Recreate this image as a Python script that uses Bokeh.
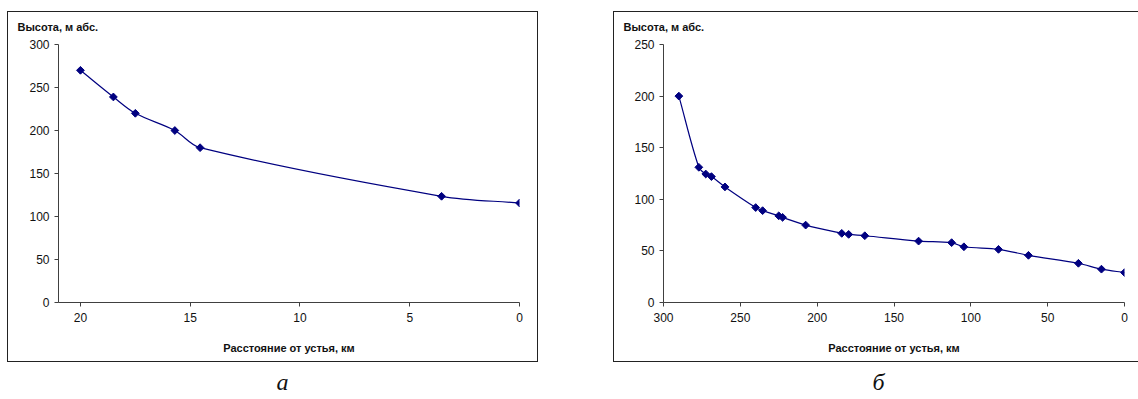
import numpy as np
from bokeh.plotting import figure
from bokeh.models import Label, Range1d, FixedTicker, Spacer, Title
from bokeh.layouts import row, column
from bokeh.embed import file_html
from bokeh.resources import INLINE

# Longitudinal river profiles: distance from the mouth (km) vs elevation (m a.s.l.)
dist_a = [20.0, 18.5, 17.5, 15.7, 14.55, 3.55, 0.0]
elev_a = [270, 239, 220, 200, 180, 123.5, 115.7]

dist_b = [290, 277, 272.5, 268.8, 260, 240, 235.5, 225, 222.5, 207.5, 184,
          179.5, 169, 134, 112.5, 104.5, 82, 62.5, 30, 15, 0]
elev_b = [200, 131, 124.5, 122, 112, 92, 89, 84, 82.5, 75, 67,
          66, 64.7, 59.5, 58, 54, 51.5, 45.7, 38, 32.3, 29]

x_ticks_a = [0, 5, 10, 15, 20]
y_ticks_a = [0, 50, 100, 150, 200, 250, 300]
x_ticks_b = [0, 50, 100, 150, 200, 250, 300]
y_ticks_b = [0, 50, 100, 150, 200, 250]

y_title = "Высота, м абс."
x_title = "Расстояние от устья, км"
panel_letters = ["а", "б"]

NAVY = "#000080"
AXIS = "#404040"
FONT = "Liberation Sans"
FRAME_W, FRAME_H = 461, 258   # plot-area size in pixels
FIG_H = 351


def smooth_segments(xs, ys, x_span, y_span, k=1.0 / 3.0):
    """Cubic Bezier pieces through the points, tangents weighted by chord length
    (measured in screen pixels so that both axes count equally)."""
    x = np.asarray(xs, float)
    y = np.asarray(ys, float)
    sx, sy = FRAME_W / x_span, FRAME_H / y_span
    d = np.hypot(np.diff(x) * sx, np.diff(y) * sy)          # segment lengths, px
    xp = np.concatenate([[x[0]], x, [x[-1]]])
    yp = np.concatenate([[y[0]], y, [y[-1]]])
    dp = np.concatenate([[0.0], d, [0.0]])
    n = len(x)
    # tangent at each point i: (P[i+1]-P[i-1]) / (d[i-1] + d[i])
    tx = (xp[2:n + 2] - xp[0:n]) / (dp[0:n] + dp[1:n + 1])
    ty = (yp[2:n + 2] - yp[0:n]) / (dp[0:n] + dp[1:n + 1])
    return dict(
        x0=x[:-1], y0=y[:-1], x1=x[1:], y1=y[1:],
        cx0=x[:-1] + tx[:-1] * d * k, cy0=y[:-1] + ty[:-1] * d * k,
        cx1=x[1:] - tx[1:] * d * k, cy1=y[1:] - ty[1:] * d * k,
    )


def profile_chart(xs, ys, x_range, y_range, x_ticks, y_ticks, width,
                  border_left, border_right, frame_css):
    p = figure(width=width, height=FIG_H, output_backend="svg",
               toolbar_location=None,
               x_range=Range1d(*x_range), y_range=Range1d(*y_range),
               min_border_left=border_left, min_border_right=border_right,
               min_border_top=33, min_border_bottom=60)
    p.background_fill_color = None
    p.border_fill_color = None
    p.outline_line_color = None
    p.grid.visible = False
    p.styles = {"box-shadow": frame_css}

    for ax, ticks in ((p.xaxis[0], x_ticks), (p.yaxis[0], y_ticks)):
        ax.ticker = FixedTicker(ticks=ticks)
        ax.axis_line_color = AXIS
        ax.major_tick_line_color = AXIS
        ax.major_tick_out = 4
        ax.major_tick_in = 0
        ax.minor_tick_line_color = None
        ax.major_label_text_font = FONT
        ax.major_label_text_font_size = "12px"
        ax.major_label_text_color = "#111111"
    p.xaxis.major_label_standoff = 6
    p.yaxis.major_label_standoff = 5

    p.xaxis.axis_label = x_title
    p.xaxis.axis_label_text_font = FONT
    p.xaxis.axis_label_text_font_size = "11px"
    p.xaxis.axis_label_text_font_style = "bold"
    p.xaxis.axis_label_text_color = "#111111"
    p.xaxis.axis_label_standoff = 17

    # horizontal axis title in the top-left corner of the box
    p.add_layout(Title(text=y_title, align="left", offset=-(border_left - 10),
                       vertical_align="top", standoff=17.5,
                       text_font=FONT, text_font_size="11px",
                       text_font_style="bold", text_color="#111111"), "above")

    seg = smooth_segments(xs, ys, abs(x_range[1] - x_range[0]),
                          abs(y_range[1] - y_range[0]))
    p.bezier(source=seg, x0="x0", y0="y0", x1="x1", y1="y1",
             cx0="cx0", cy0="cy0", cx1="cx1", cy1="cy1",
             line_color=NAVY, line_width=1.2)
    p.scatter(xs, ys, marker="square", angle=np.pi / 4, size=5.5,
              fill_color=NAVY, line_color=NAVY)
    return p


fig_a = profile_chart(dist_a, elev_a, (21, 0), (0, 300), x_ticks_a, y_ticks_a,
                      width=531, border_left=51, border_right=19,
                      frame_css="inset 0 0 0 1px #222222")
fig_b = profile_chart(dist_b, elev_b, (300, 0), (0, 250), x_ticks_b, y_ticks_b,
                      width=525, border_left=50, border_right=14,
                      frame_css="inset 1px 1px 0 0 #222222, inset 0 -1px 0 0 #222222")

# panel letters under the two charts
letters = figure(width=1138, height=37, output_backend="svg", toolbar_location=None,
                 x_range=Range1d(0, 1138), y_range=Range1d(0, 37), min_border=0)
letters.axis.visible = False
letters.grid.visible = False
letters.outline_line_color = None
for cx, txt in zip([282, 878], panel_letters):
    letters.add_layout(Label(x=cx, y=18, text=txt, text_font="Liberation Serif",
                             text_font_style="italic", text_font_size="24px",
                             text_color="#111111", text_align="center",
                             text_baseline="middle"))

page = column(Spacer(height=11),
              row(Spacer(width=7), fig_a, Spacer(width=75), fig_b),
              letters)

with open("out.html", "w") as f:
    f.write(file_html(page, INLINE))
